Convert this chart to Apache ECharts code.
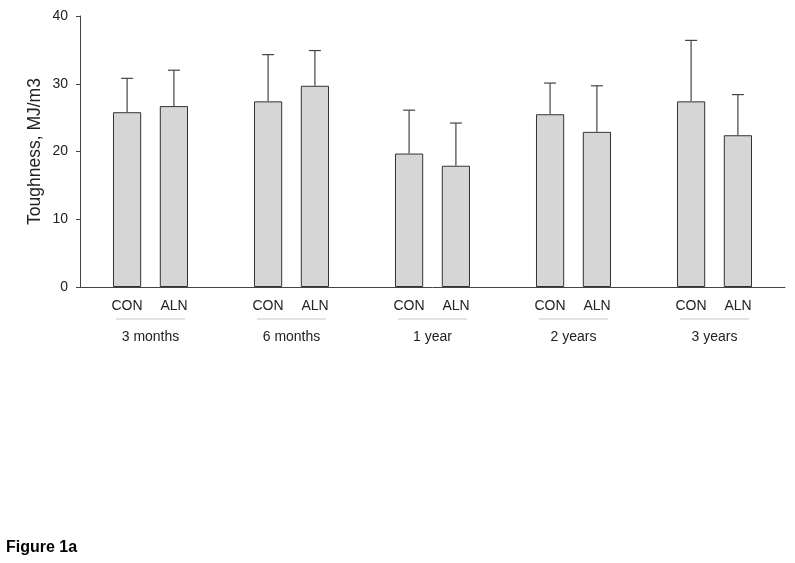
<!DOCTYPE html>
<html><head><meta charset="utf-8">
<script src="https://cdn.jsdelivr.net/npm/echarts@6/dist/echarts.min.js"></script>
<style>html,body{margin:0;padding:0;background:#fff}#c{width:795px;height:563px}</style>
</head><body><div id="c"></div>
<script>
const groups = ['3 months', '6 months', '1 year', '2 years', '3 years'];
const seriesNames = ['CON', 'ALN'];
const conMean = [25.8, 27.4, 19.7, 25.5, 27.4];
const conSD = [5.0, 6.9, 6.4, 4.6, 9.0];
const alnMean = [26.7, 29.7, 17.9, 22.9, 22.4];
const alnSD = [5.3, 5.2, 6.3, 6.8, 6.0];
const yTicks = [0, 10, 20, 30, 40];

const chart = echarts.init(document.getElementById('c'));
const textColor = '#222';
const font = 'Liberation Sans, Arial, sans-serif';

function errSeries(means, sds, dir) {
  return {
    type: 'custom',
    z: 1,
    data: means.map((m, i) => [i, m, m + sds[i]]),
    renderItem: function (params, api) {
      const band = api.size([1, 0])[0];
      const off = dir * band * (0.2 + 0.2 * 0.66) / 2;
      const p0 = api.coord([api.value(0), api.value(1)]);
      const p1 = api.coord([api.value(0), api.value(2)]);
      const x = p0[0] + off;
      const cap = 6;
      const st = { stroke: '#444', lineWidth: 1.2 };
      return {
        type: 'group',
        children: [
          { type: 'line', shape: { x1: x, y1: p0[1], x2: x, y2: p1[1] }, style: st },
          { type: 'line', shape: { x1: x - cap, y1: p1[1], x2: x + cap, y2: p1[1] }, style: st }
        ]
      };
    }
  };
}

const barStyle = { color: '#d6d6d6', borderColor: '#333', borderWidth: 1 };

chart.setOption({
  animation: false,
  backgroundColor: '#fff',
  title: {
    text: 'Figure 1a', left: 1, top: 535,
    textStyle: { fontFamily: font, fontWeight: 'bold', fontSize: 16, color: '#000' }
  },
  grid: { left: 80, right: 10, top: 16, bottom: 276 },
  xAxis: {
    type: 'category',
    data: groups,
    axisLine: { lineStyle: { color: '#444', width: 1 } },
    axisTick: { show: false },
    axisLabel: {
      margin: 9,
      interval: 0,
      fontFamily: font,
      color: textColor,
      formatter: function (v) {
        return '{a|' + seriesNames[0] + '}{b|' + seriesNames[1] + '}\n{l| }\n{c|' + v + '}';
      },
      rich: {
        a: { width: 47, align: 'center', fontSize: 14, lineHeight: 20, fontFamily: font, color: textColor },
        b: { width: 47, align: 'center', fontSize: 14, lineHeight: 20, fontFamily: font, color: textColor },
        l: { width: 69, height: 1, lineHeight: 6, fontSize: 1, backgroundColor: '#c8c8c8' },
        c: { fontSize: 14, lineHeight: 30, fontFamily: font, color: textColor }
      }
    }
  },
  yAxis: {
    type: 'value',
    min: 0, max: 40, interval: 10,
    name: 'Toughness, MJ/m3',
    nameLocation: 'middle',
    nameGap: 36,
    nameMoveOverlap: false,
    nameTextStyle: { fontFamily: font, fontSize: 17.5, color: textColor },
    axisLine: { show: true, lineStyle: { color: '#444', width: 1 } },
    axisTick: { show: true, length: 4, lineStyle: { color: '#444' } },
    axisLabel: { margin: 12, fontFamily: font, fontSize: 14, color: textColor,
      formatter: v => yTicks.includes(v) ? String(v) : '' },
    splitLine: { show: false }
  },
  series: [
    { name: seriesNames[0], type: 'bar', data: conMean, barWidth: '20%', barGap: '66%', itemStyle: barStyle, z: 2 },
    { name: seriesNames[1], type: 'bar', data: alnMean, barWidth: '20%', barGap: '66%', itemStyle: barStyle, z: 2 },
    errSeries(conMean, conSD, -1),
    errSeries(alnMean, alnSD, 1)
  ]
});
</script></body></html>
